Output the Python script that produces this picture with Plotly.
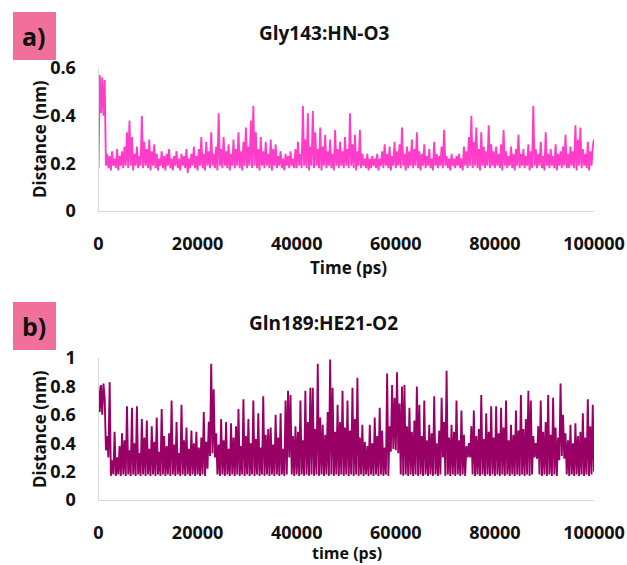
import plotly.graph_objects as go

# ---------------- data ----------------
time_step_ps = 250
time_max_ps = 100000

# Gly143:HN-O3 distance (nm), one value every 250 ps
dist_a = [
    0.18, 0.57, 0.41, 0.56, 0.40, 0.55, 0.19, 0.24, 0.18, 0.23, 0.17, 0.25, 0.19, 0.22, 0.18, 0.26, 0.17, 0.23, 0.19, 0.25,
    0.18, 0.27, 0.19, 0.33, 0.18, 0.38, 0.19, 0.31, 0.17, 0.24, 0.19, 0.27, 0.18, 0.23, 0.19, 0.40, 0.18, 0.29, 0.19, 0.26,
    0.18, 0.30, 0.17, 0.25, 0.19, 0.28, 0.18, 0.24, 0.17, 0.22, 0.19, 0.25, 0.18, 0.23, 0.17, 0.24, 0.19, 0.26, 0.18, 0.22,
    0.17, 0.23, 0.19, 0.25, 0.18, 0.22, 0.17, 0.24, 0.19, 0.23, 0.18, 0.26, 0.16, 0.22, 0.18, 0.24, 0.19, 0.27, 0.18, 0.23,
    0.17, 0.26, 0.19, 0.31, 0.18, 0.24, 0.17, 0.29, 0.19, 0.25, 0.18, 0.33, 0.19, 0.24, 0.18, 0.27, 0.17, 0.41, 0.19, 0.26,
    0.18, 0.31, 0.19, 0.25, 0.18, 0.28, 0.17, 0.24, 0.19, 0.30, 0.18, 0.26, 0.19, 0.33, 0.18, 0.25, 0.17, 0.29, 0.19, 0.35,
    0.18, 0.27, 0.19, 0.38, 0.18, 0.44, 0.19, 0.33, 0.18, 0.26, 0.17, 0.31, 0.19, 0.25, 0.18, 0.29, 0.19, 0.24, 0.18, 0.30,
    0.17, 0.26, 0.19, 0.28, 0.18, 0.23, 0.19, 0.25, 0.18, 0.22, 0.17, 0.24, 0.19, 0.23, 0.18, 0.25, 0.19, 0.22, 0.18, 0.26,
    0.18, 0.29, 0.19, 0.24, 0.18, 0.44, 0.19, 0.30, 0.18, 0.41, 0.17, 0.27, 0.19, 0.42, 0.18, 0.33, 0.19, 0.26, 0.18, 0.35,
    0.17, 0.27, 0.19, 0.32, 0.18, 0.25, 0.19, 0.30, 0.18, 0.24, 0.17, 0.34, 0.19, 0.26, 0.18, 0.29, 0.19, 0.25, 0.18, 0.31,
    0.19, 0.26, 0.18, 0.41, 0.19, 0.28, 0.18, 0.32, 0.17, 0.25, 0.19, 0.34, 0.18, 0.24, 0.19, 0.22, 0.18, 0.24, 0.17, 0.22,
    0.18, 0.23, 0.19, 0.22, 0.18, 0.24, 0.17, 0.22, 0.19, 0.25, 0.18, 0.28, 0.19, 0.24, 0.18, 0.27, 0.17, 0.23, 0.19, 0.29,
    0.18, 0.25, 0.19, 0.28, 0.18, 0.35, 0.19, 0.24, 0.17, 0.27, 0.18, 0.25, 0.19, 0.30, 0.18, 0.26, 0.19, 0.33, 0.18, 0.25,
    0.17, 0.24, 0.19, 0.28, 0.18, 0.23, 0.19, 0.26, 0.18, 0.22, 0.17, 0.29, 0.19, 0.24, 0.18, 0.23, 0.19, 0.27, 0.18, 0.34,
    0.19, 0.23, 0.18, 0.22, 0.17, 0.24, 0.19, 0.22, 0.18, 0.23, 0.19, 0.24, 0.18, 0.22, 0.17, 0.27, 0.19, 0.25, 0.18, 0.31,
    0.19, 0.40, 0.18, 0.29, 0.19, 0.35, 0.18, 0.26, 0.17, 0.33, 0.19, 0.27, 0.18, 0.25, 0.19, 0.36, 0.18, 0.28, 0.19, 0.25,
    0.18, 0.27, 0.19, 0.24, 0.18, 0.28, 0.17, 0.34, 0.19, 0.25, 0.18, 0.23, 0.19, 0.27, 0.18, 0.24, 0.17, 0.26, 0.19, 0.32,
    0.18, 0.24, 0.19, 0.26, 0.18, 0.23, 0.19, 0.28, 0.17, 0.25, 0.18, 0.44, 0.19, 0.26, 0.18, 0.24, 0.19, 0.29, 0.18, 0.23,
    0.17, 0.33, 0.19, 0.24, 0.18, 0.26, 0.19, 0.23, 0.18, 0.28, 0.17, 0.24, 0.19, 0.25, 0.18, 0.27, 0.19, 0.32, 0.18, 0.24,
    0.18, 0.27, 0.19, 0.25, 0.18, 0.36, 0.17, 0.30, 0.19, 0.35, 0.18, 0.26, 0.19, 0.24, 0.18, 0.29, 0.17, 0.25, 0.19, 0.27,
    0.30,
]

# Gln189:HE21-O2 distance (nm), one value every 250 ps
dist_b = [
    0.80, 0.62, 0.81, 0.60, 0.82, 0.72, 0.35, 0.45, 0.30, 0.83, 0.17, 0.28, 0.18, 0.48, 0.17, 0.30, 0.18, 0.38, 0.17, 0.47,
    0.18, 0.42, 0.17, 0.66, 0.18, 0.35, 0.17, 0.65, 0.18, 0.40, 0.17, 0.66, 0.18, 0.33, 0.17, 0.57, 0.18, 0.44, 0.17, 0.56,
    0.18, 0.36, 0.17, 0.52, 0.18, 0.41, 0.17, 0.58, 0.18, 0.34, 0.17, 0.64, 0.18, 0.45, 0.17, 0.38, 0.18, 0.47, 0.17, 0.70,
    0.18, 0.39, 0.17, 0.55, 0.18, 0.33, 0.17, 0.67, 0.18, 0.42, 0.17, 0.51, 0.18, 0.36, 0.17, 0.49, 0.18, 0.40, 0.17, 0.48,
    0.18, 0.37, 0.17, 0.44, 0.18, 0.62, 0.17, 0.41, 0.22, 0.55, 0.31, 0.96, 0.33, 0.78, 0.30, 0.47, 0.18, 0.39, 0.17, 0.57,
    0.18, 0.42, 0.17, 0.55, 0.18, 0.36, 0.17, 0.54, 0.18, 0.44, 0.17, 0.52, 0.18, 0.64, 0.17, 0.38, 0.18, 0.71, 0.17, 0.45,
    0.18, 0.57, 0.17, 0.40, 0.18, 0.70, 0.17, 0.43, 0.18, 0.61, 0.17, 0.37, 0.18, 0.73, 0.17, 0.46, 0.18, 0.50, 0.17, 0.51,
    0.18, 0.39, 0.17, 0.60, 0.18, 0.44, 0.17, 0.61, 0.18, 0.36, 0.17, 0.70, 0.18, 0.77, 0.30, 0.74, 0.18, 0.45, 0.17, 0.52,
    0.18, 0.48, 0.17, 0.70, 0.18, 0.42, 0.17, 0.77, 0.18, 0.55, 0.17, 0.79, 0.18, 0.79, 0.17, 0.50, 0.18, 0.96, 0.17, 0.58,
    0.18, 0.53, 0.17, 0.46, 0.18, 0.62, 0.17, 0.99, 0.18, 0.79, 0.17, 0.48, 0.18, 0.67, 0.17, 0.55, 0.18, 0.77, 0.17, 0.51,
    0.18, 0.70, 0.17, 0.49, 0.18, 0.79, 0.17, 0.57, 0.18, 0.86, 0.17, 0.44, 0.18, 0.53, 0.17, 0.41, 0.18, 0.38, 0.17, 0.53,
    0.18, 0.40, 0.17, 0.58, 0.18, 0.45, 0.17, 0.65, 0.18, 0.49, 0.17, 0.37, 0.18, 0.89, 0.17, 0.52, 0.34, 0.81, 0.36, 0.72,
    0.35, 0.90, 0.33, 0.68, 0.18, 0.80, 0.17, 0.81, 0.18, 0.52, 0.17, 0.65, 0.18, 0.48, 0.17, 0.56, 0.18, 0.80, 0.17, 0.67,
    0.18, 0.45, 0.17, 0.70, 0.18, 0.42, 0.17, 0.53, 0.18, 0.47, 0.17, 0.73, 0.18, 0.40, 0.17, 0.49, 0.18, 0.72, 0.30, 0.55,
    0.17, 0.91, 0.18, 0.44, 0.17, 0.53, 0.18, 0.48, 0.17, 0.70, 0.18, 0.42, 0.17, 0.63, 0.18, 0.46, 0.17, 0.38, 0.30, 0.40,
    0.30, 0.52, 0.18, 0.63, 0.17, 0.45, 0.18, 0.50, 0.17, 0.74, 0.18, 0.43, 0.17, 0.61, 0.18, 0.48, 0.17, 0.66, 0.18, 0.44,
    0.17, 0.66, 0.18, 0.47, 0.17, 0.65, 0.18, 0.51, 0.17, 0.70, 0.18, 0.42, 0.17, 0.53, 0.18, 0.46, 0.17, 0.63, 0.18, 0.49,
    0.17, 0.74, 0.18, 0.50, 0.17, 0.57, 0.18, 0.77, 0.17, 0.70, 0.18, 0.45, 0.30, 0.40, 0.29, 0.52, 0.18, 0.70, 0.17, 0.48,
    0.18, 0.55, 0.17, 0.74, 0.18, 0.46, 0.17, 0.72, 0.18, 0.51, 0.17, 0.44, 0.28, 0.82, 0.31, 0.60, 0.29, 0.47, 0.18, 0.42,
    0.17, 0.53, 0.18, 0.40, 0.17, 0.54, 0.18, 0.45, 0.17, 0.48, 0.18, 0.61, 0.17, 0.44, 0.18, 0.71, 0.17, 0.52, 0.18, 0.67,
    0.20,
]

time_a = [i * time_step_ps for i in range(len(dist_a))]
time_b = [i * time_step_ps for i in range(len(dist_b))]

title_a = "Gly143:HN-O3"
title_b = "Gln189:HE21-O2"
xlabel_a = "Time (ps)"
xlabel_b = "time (ps)"
ylabel = "Distance (nm)"
panel_labels = ["a)", "b)"]
x_ticks = [0, 20000, 40000, 60000, 80000, 100000]
y_ticks_a = [0, 0.2, 0.4, 0.6]
y_ticks_b = [0, 0.2, 0.4, 0.6, 0.8, 1]

# ---------------- figure ----------------
W, H = 627, 565
FONT = "Open Sans"
color_a = "#ff3dc8"
color_b = "#990066"
axis_grey = "#d9d9d9"

def px(x):
    return x / W

def py(y):
    return 1 - y / H

fig = go.Figure()
fig.add_trace(go.Scatter(x=time_a, y=dist_a, mode="lines",
                         line=dict(color=color_a, width=1.9),
                         xaxis="x", yaxis="y", showlegend=False))
fig.add_trace(go.Scatter(x=time_b, y=dist_b, mode="lines",
                         line=dict(color=color_b, width=1.9),
                         xaxis="x2", yaxis="y2", showlegend=False))

tickfont = dict(family=FONT, size=18, color="#111111", weight="bold")
xdom = [px(98.5), px(594)]

common_x = dict(range=[0, time_max_ps], tickvals=x_ticks, tickformat="d",
                showgrid=False, zeroline=False, showline=True,
                linecolor=axis_grey, linewidth=1, ticks="",
                tickfont=tickfont, ticklabelstandoff=16, automargin=False)
common_y = dict(showgrid=False, zeroline=False, showline=True,
                linecolor=axis_grey, linewidth=1, ticks="",
                tickfont=tickfont, ticklabelstandoff=18, automargin=False)

fig.update_layout(
    width=W, height=H, autosize=False,
    margin=dict(l=0, r=0, t=0, b=0, pad=0, autoexpand=False),
    paper_bgcolor="white", plot_bgcolor="white",
    showlegend=False,
    xaxis=dict(domain=xdom, anchor="y", **common_x),
    yaxis=dict(domain=[py(211), py(68)], range=[0, 0.6], tickvals=y_ticks_a,
               anchor="x", **common_y),
    xaxis2=dict(domain=xdom, anchor="y2", **common_x),
    yaxis2=dict(domain=[py(500), py(358)], range=[0, 1], tickvals=y_ticks_b,
                anchor="x2", **common_y),
)

annots = []
def txt(text, x, y, size, angle=0):
    annots.append(dict(text=text, x=px(x), y=py(y), xref="paper", yref="paper",
                       showarrow=False, textangle=angle, xanchor="center",
                       yanchor="middle",
                       font=dict(family=FONT, size=size, color="#111111",
                                 weight="bold")))

txt(title_a, 324, 33, 19)
txt(title_b, 323, 323, 19)
txt(xlabel_a, 348, 267, 17)
txt(xlabel_b, 347, 553, 16)
txt(ylabel, 39, 139, 17, -90)
txt(ylabel, 39, 429, 17, -90)

shapes = []
for lab, (y0, y1) in zip(panel_labels, [(12, 60), (302, 350)]):
    shapes.append(dict(type="rect", xref="paper", yref="paper",
                       x0=px(13), x1=px(56), y0=py(y1), y1=py(y0),
                       fillcolor="#f0709a", line=dict(width=0), layer="below"))
    txt(lab, 34, (y0 + y1) / 2, 25)

fig.update_layout(annotations=annots, shapes=shapes)
fig.write_html("out.html")
